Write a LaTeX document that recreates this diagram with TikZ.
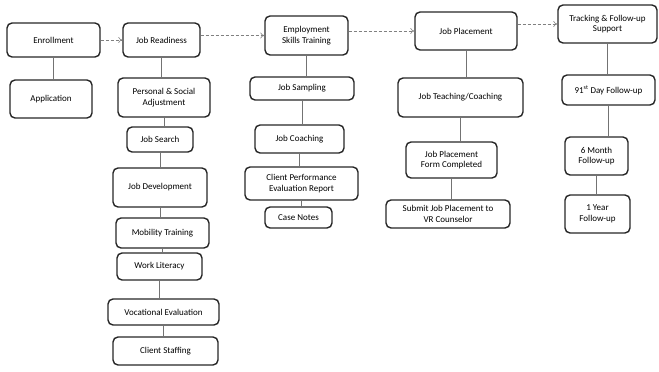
\documentclass[tikz,border=0pt]{standalone}
\usepackage{fontspec}
\setmainfont{Carlito}
\usetikzlibrary{arrows.meta}
\tikzset{
  stepbox/.style={draw=black!85, line width=1.4pt, rounded corners=5pt,
    align=center, inner sep=1pt, font=\fontsize{9}{10.5}\selectfont},
  link/.style={draw=black!55, line width=0.6pt},
  flow/.style={draw=black!50, line width=0.6pt, densely dashed,
    -{To[length=4pt, width=6pt]}}
}
\begin{document}
\begin{tikzpicture}[x=1pt, y=-1pt]
  \useasboundingbox (0,0) rectangle (659,372);
  % Column 1: intake.
  \node[stepbox, minimum width=93pt, minimum height=34pt] (enroll) at (53.5,40) {Enrollment};
  \node[stepbox, minimum width=82pt, minimum height=38pt] (appl) at (51,99) {Application};
  % Column 2: job readiness.
  \node[stepbox, minimum width=77pt, minimum height=34pt] (ready) at (161.5,40) {Job Readiness};
  \node[stepbox, minimum width=92pt, minimum height=39pt] (adjust) at (164,97.5) {Personal \& Social\\Adjustment};
  \node[stepbox, minimum width=66pt, minimum height=25pt] (search) at (160,139.5) {Job Search};
  \node[stepbox, minimum width=94pt, minimum height=39pt] (develop) at (160,187.5) {Job Development};
  \node[stepbox, minimum width=93pt, minimum height=30pt] (mobility) at (162.5,233) {Mobility Training};
  \node[stepbox, minimum width=85pt, minimum height=27pt] (literacy) at (159.5,266.5) {Work Literacy};
  \node[stepbox, minimum width=111pt, minimum height=26pt] (vocation) at (163.5,312) {Vocational Evaluation};
  \node[stepbox, minimum width=105pt, minimum height=28pt] (staffing) at (165.5,351) {Client Staffing};
  % Column 3: skills training.
  \node[stepbox, minimum width=83pt, minimum height=39pt] (skills) at (306.5,35.5) {Employment\\Skills Training};
  \node[stepbox, minimum width=104pt, minimum height=23pt] (sampling) at (302,88.5) {Job Sampling};
  \node[stepbox, minimum width=89pt, minimum height=28pt] (coaching) at (299.5,139) {Job Coaching};
  \node[stepbox, minimum width=113pt, minimum height=33pt] (evalrep) at (301.5,183.5) {Client Performance\\Evaluation Report};
  \node[stepbox, minimum width=67pt, minimum height=21pt] (casenotes) at (298.5,217.5) {Case Notes};
  % Column 4: placement.
  \node[stepbox, minimum width=102pt, minimum height=38pt] (placement) at (466,31) {Job Placement};
  \node[stepbox, minimum width=125pt, minimum height=39pt] (teaching) at (460.5,97.5) {Job Teaching/Coaching};
  \node[stepbox, minimum width=91pt, minimum height=36pt] (formdone) at (451.5,160) {Job Placement\\Form Completed};
  \node[stepbox, minimum width=124pt, minimum height=28pt] (submit) at (448,214) {Submit Job Placement to\\VR Counselor};
  % Column 5: follow-up.
  \node[stepbox, minimum width=99pt, minimum height=38pt] (tracking) at (607.5,24) {Tracking \& Follow-up\\Support};
  \node[stepbox, minimum width=93pt, minimum height=30pt] (day91) at (608.5,90) {91\textsuperscript{st} Day Follow-up};
  \node[stepbox, minimum width=63pt, minimum height=38pt] (month6) at (596.5,156) {6 Month\\Follow-up};
  \node[stepbox, minimum width=65pt, minimum height=38pt] (year1) at (597.5,214) {1 Year\\Follow-up};
  % Links down each column.
  \foreach \a/\b in {enroll/appl, ready/adjust, adjust/search, search/develop,
      develop/mobility, mobility/literacy, literacy/vocation, vocation/staffing,
      skills/sampling, sampling/coaching, coaching/evalrep, evalrep/casenotes,
      placement/teaching, teaching/formdone, formdone/submit,
      tracking/day91, day91/month6, month6/year1}
    \draw[link] (\a.south) -- (\a.south |- \b.north);
  % Flow along the top row.
  \draw[flow] (enroll.east) -- (ready.west);
  \draw[flow] (ready.east |- skills.west) -- (skills.west);
  \draw[flow] (skills.east |- placement.west) -- (placement.west);
  \draw[flow] (placement.east |- tracking.west) -- (tracking.west);
\end{tikzpicture}
\end{document}
